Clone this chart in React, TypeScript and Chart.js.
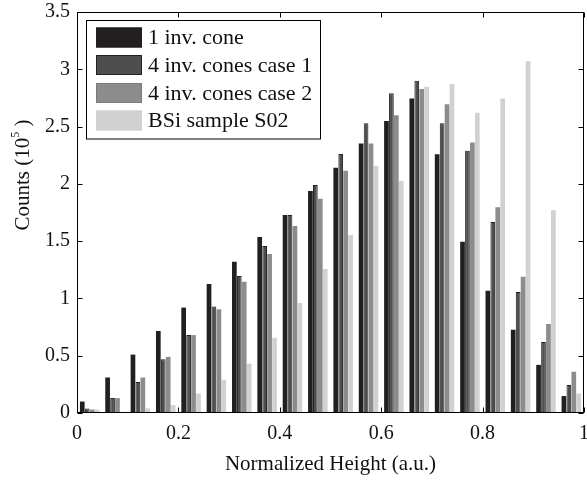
import React, { useEffect, useRef } from "react";
import { Chart, registerables } from "chart.js";

Chart.register(...registerables);

const binCenters = [
  "0.025", "0.075", "0.125", "0.175", "0.225", "0.275", "0.325", "0.375", "0.425", "0.475",
  "0.525", "0.575", "0.625", "0.675", "0.725", "0.775", "0.825", "0.875", "0.925", "0.975",
];

const oneCone = [0.1, 0.31, 0.51, 0.716, 0.92, 1.126, 1.32, 1.536, 1.728, 1.937, 2.14, 2.353, 2.548, 2.746, 2.258, 1.495, 1.067, 0.727, 0.42, 0.148];
const fourCase1 = [0.04, 0.13, 0.27, 0.47, 0.68, 0.93, 1.196, 1.457, 1.728, 1.99, 2.26, 2.53, 2.79, 2.9, 2.53, 2.29, 1.667, 1.056, 0.62, 0.244];
const fourCase2 = [0.03, 0.13, 0.31, 0.49, 0.68, 0.905, 1.146, 1.387, 1.632, 1.87, 2.115, 2.353, 2.598, 2.827, 2.694, 2.36, 1.795, 1.19, 0.777, 0.36];
const bsiS02 = [0.03, 0.01, 0.04, 0.07, 0.17, 0.29, 0.43, 0.657, 0.96, 1.257, 1.553, 2.158, 2.025, 2.848, 2.871, 2.62, 2.746, 3.07, 1.77, 0.17];

const seriesNames = ["1 inv. cone", "4 inv. cones case 1", "4 inv. cones case 2", "BSi sample S02"];
const seriesColors = ["#231f20", "#4f4e4f", "#8d8c8d", "#d1d1d1"];
const seriesBorders = ["#231f20", "#222222", "#7a7a7a", "#d1d1d1"];

const yTicks = [0, 0.5, 1, 1.5, 2, 2.5, 3, 3.5];
const xTicks = [0, 0.2, 0.4, 0.6, 0.8, 1];

const FONT = "Liberation Serif";

const framePlugin = {
  id: "framePlugin",
  afterDraw(chart: any) {
    const { ctx, chartArea: a, scales } = chart;
    ctx.save();
    ctx.strokeStyle = "#000";
    ctx.lineWidth = 1;
    const L = Math.round(a.left) + 0.5;
    const R = Math.round(a.right) - 0.5;
    const T = Math.round(a.top) + 0.5;
    const B = Math.round(a.bottom) - 0.5;
    ctx.strokeRect(L, T, R - L, B - T);
    const tl = 5;
    ctx.beginPath();
    for (const v of yTicks) {
      const y = Math.round(scales.y.getPixelForValue(v)) + 0.5;
      ctx.moveTo(L, y); ctx.lineTo(L + tl, y);
      ctx.moveTo(R, y); ctx.lineTo(R - tl, y);
    }
    for (const v of xTicks) {
      const x = Math.round(scales.x2.getPixelForValue(v)) + 0.5;
      ctx.moveTo(x, T); ctx.lineTo(x, T + tl);
      ctx.moveTo(x, B); ctx.lineTo(x, B - tl);
    }
    ctx.stroke();

    // legend
    const lx = 86.5, ly = 20.5, lw = 234, lh = 118.5;
    ctx.fillStyle = "#fff";
    ctx.fillRect(lx, ly, lw, lh);
    ctx.strokeRect(lx, ly, lw, lh);
    const rows = [37.5, 65, 93, 120.5];
    ctx.font = `22px "${FONT}"`;
    ctx.textBaseline = "middle";
    ctx.textAlign = "left";
    seriesNames.forEach((name, i) => {
      const cy = rows[i];
      ctx.fillStyle = seriesColors[i];
      ctx.fillRect(96, cy - 10, 46, 20);
      ctx.strokeStyle = seriesBorders[i];
      ctx.strokeRect(96.5, cy - 9.5, 45, 19);
      ctx.fillStyle = "#111";
      ctx.fillText(name, 148, cy + 1);
    });

    // y title with superscript
    ctx.save();
    ctx.translate(23, 175);
    ctx.rotate(-Math.PI / 2);
    ctx.fillStyle = "#111";
    ctx.textBaseline = "middle";
    const p1 = "Counts (10";
    const p2 = "5";
    const p3 = " )";
    ctx.font = `21px "${FONT}"`;
    const w1 = ctx.measureText(p1).width;
    const w3 = ctx.measureText(p3).width;
    ctx.font = `12px "${FONT}"`;
    const w2 = ctx.measureText(p2).width;
    const total = w1 + w2 + w3;
    let x = -total / 2;
    ctx.font = `21px "${FONT}"`;
    ctx.fillText(p1, x, 0);
    x += w1;
    ctx.font = `12px "${FONT}"`;
    ctx.fillText(p2, x, -7);
    x += w2;
    ctx.font = `21px "${FONT}"`;
    ctx.fillText(p3, x, 0);
    ctx.restore();

    ctx.restore();
  },
};

export default function App() {
  const ref = useRef<HTMLCanvasElement>(null);
  useEffect(() => {
    document.body.style.margin = "0";
    const datasets = [oneCone, fourCase1, fourCase2, bsiS02].map((d, i) => ({
      label: seriesNames[i],
      data: d,
      backgroundColor: seriesColors[i],
      borderColor: seriesBorders[i],
      borderWidth: i === 1 ? 1 : 0,
      borderSkipped: "bottom" as const,
      categoryPercentage: 0.78,
      barPercentage: 0.95,
      xAxisID: "x",
      yAxisID: "y",
    }));
    const chart = new Chart(ref.current!, {
      type: "bar",
      data: { labels: binCenters, datasets },
      options: {
        animation: false,
        responsive: false,
        layout: { padding: { left: 0, top: 12, right: 3, bottom: 0 } },
        plugins: { legend: { display: false }, tooltip: { enabled: false } },
        scales: {
          x: { type: "category", display: false, offset: true, grid: { display: false } },
          x2: {
            type: "linear",
            position: "bottom",
            min: 0,
            max: 1,
            offset: false,
            afterBuildTicks: (s: any) => { s.ticks = xTicks.map((v) => ({ value: v })); },
            afterFit: (s: any) => { s.height = 67; s.paddingLeft = 0; s.paddingRight = 0; },
            grid: { display: false, drawTicks: false, offset: false },
            border: { display: false },
            ticks: {
              color: "#111",
              padding: 9,
              maxRotation: 0,
              autoSkip: false,
              font: { family: FONT, size: 20 },
              callback: (v: any) => String(v),
            },
            title: {
              display: true,
              text: "Normalized Height (a.u.)",
              color: "#111",
              font: { family: FONT, size: 21 },
              padding: { top: 0, bottom: 3 },
            },
          },
          y: {
            type: "linear",
            min: 0,
            max: 3.5,
            afterBuildTicks: (s: any) => { s.ticks = yTicks.map((v) => ({ value: v })); },
            afterFit: (s: any) => { s.width = 77; s.paddingTop = 0; s.paddingBottom = 0; },
            grid: { display: false, drawTicks: false },
            border: { display: false },
            ticks: {
              color: "#111",
              padding: 7,
              font: { family: FONT, size: 20 },
              callback: (v: any) => String(v),
            },
          },
        },
      },
      plugins: [framePlugin],
    });
    return () => chart.destroy();
  }, []);
  return (
    <div style={{ width: 587, height: 480, background: "#fff" }}>
      <canvas ref={ref} width={587} height={480} />
    </div>
  );
}
